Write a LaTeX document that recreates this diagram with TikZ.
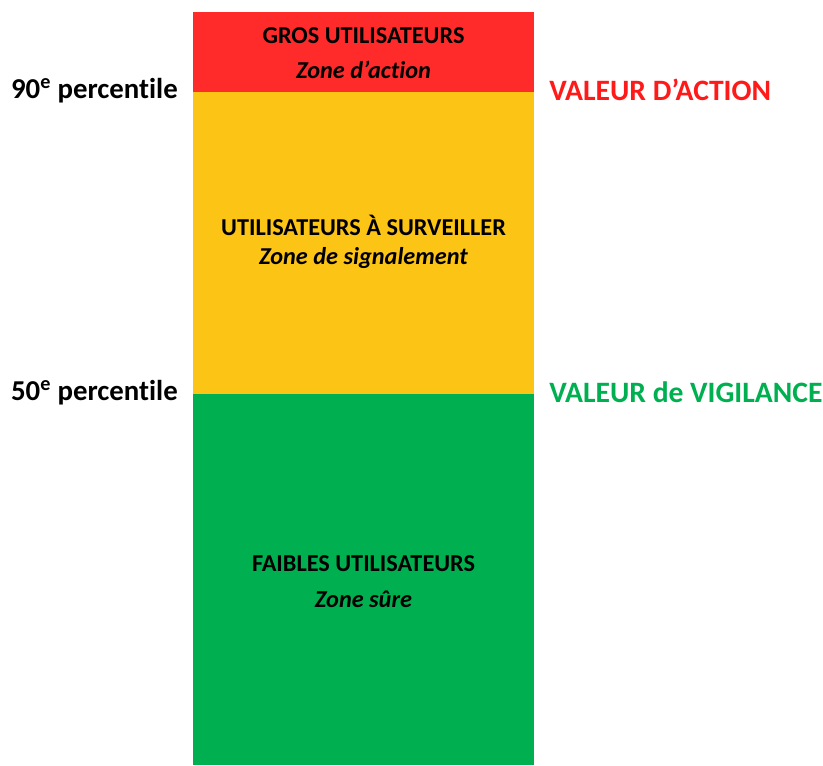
\documentclass[tikz,border=0pt]{standalone}
\usepackage{fontspec}
\setmainfont[Ligatures=NoCommon]{Carlito}
\definecolor{zonered}{HTML}{FF2B2B}
\definecolor{zoneyellow}{HTML}{FCC414}
\definecolor{zonegreen}{HTML}{00B050}
\definecolor{valred}{HTML}{FF1A1A}
\begin{document}
\begin{tikzpicture}[x=0.75pt,y=-0.75pt,
    zonetitle/.style={font=\fontsize{18.2}{21}\selectfont\bfseries},
    zonesub/.style={font=\fontsize{18.2}{21}\selectfont\bfseries\itshape},
    pctlabel/.style={font=\fontsize{21.6}{25}\selectfont\bfseries,anchor=east,inner sep=0pt},
    vallabel/.style={font=\fontsize{22.2}{26}\selectfont\bfseries,anchor=west,inner sep=0pt}]

\useasboundingbox (0,0) rectangle (823,765);

\fill [zonered] (193,12) rectangle (534,92);
\fill [zoneyellow] (193,92) rectangle (534,394);
\fill [zonegreen] (193,394) rectangle (534,765);

\node [zonetitle] (gros) at (363.5,36) {GROS UTILISATEURS};
\node [zonesub] (grossub) at (363.5,70) {Zone d’action};

\node [zonetitle] (surv) at (363.5,225) {UTILISATEURS À SURVEILLER};
\node [zonesub] (survsub) at (363.5,258) {Zone de signalement};

\node [zonetitle] (faible) at (363.5,564) {FAIBLES UTILISATEURS};
\node [zonesub] (faiblesub) at (363.5,599) {Zone sûre};

\node [pctlabel] (p90) at (178,91) {90\textsuperscript{e} percentile};
\node [pctlabel] (p50) at (178,393) {50\textsuperscript{e} percentile};

\node [vallabel,text=valred] (action) at (549,90) {VALEUR D’ACTION};
\node [vallabel,text=zonegreen] (vigil) at (549,392) {VALEUR de VIGILANCE};

\end{tikzpicture}
\end{document}
